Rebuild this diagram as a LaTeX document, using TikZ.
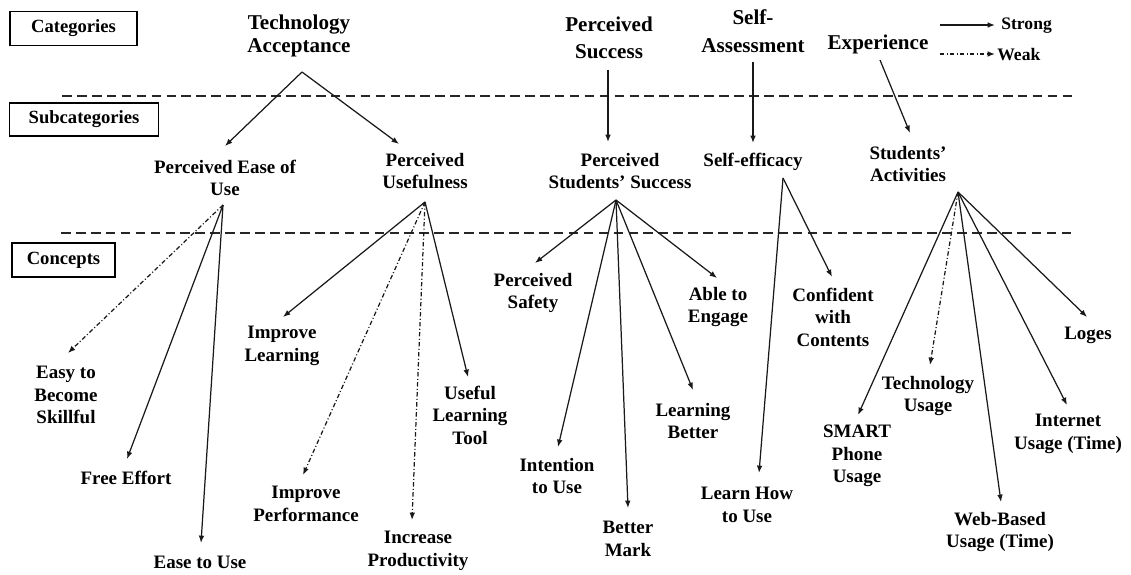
\documentclass[tikz,border=0pt]{standalone}
\usepackage{fontspec}
\setmainfont{Liberation Serif}
\usetikzlibrary{arrows.meta}
\begin{document}
\begin{tikzpicture}[x=0.02cm,y=-0.02cm,
  lab/.style={font=\bfseries\fontsize{10.8}{12.8}\selectfont,align=center,inner sep=0pt},
  cat/.style={font=\bfseries\fontsize{12}{13.2}\selectfont,align=center,inner sep=0pt},
  levelbox/.style={draw,line width=0.8pt,font=\bfseries\fontsize{10.6}{12}\selectfont,inner sep=0pt},
  sep/.style={line width=0.65pt,dash pattern=on 5.5pt off 3pt,draw=black!85},
  strong/.style={line width=0.7pt,draw=black!90,-{Latex[length=4.2pt,width=3.2pt]}},
  weak/.style={line width=0.7pt,draw=black!90,dash pattern=on 2.5pt off 1.3pt on 0.6pt off 1.3pt,-{Latex[length=4.2pt,width=3.2pt]}}]
\useasboundingbox (0,0) rectangle (1131,574);
\fill[white] (0,0) rectangle (1131,574);

% level boxes
\node[levelbox,minimum width=127*0.02cm,minimum height=34*0.02cm] (lvcat) at (73.5,28.5) {Categories};
\node[levelbox,minimum width=149*0.02cm,minimum height=33*0.02cm] (lvsub) at (84,119.5) {Subcategories};
\node[levelbox,minimum width=103*0.02cm,minimum height=34*0.02cm] (lvcon) at (63.5,260) {Concepts};

% level separators
\coordinate (s1a) at (62,96);  \coordinate (s1b) at (1075,96);
\coordinate (s2a) at (61,233); \coordinate (s2b) at (1075,233);
\draw[sep] (s1a) -- (s1b);
\draw[sep] (s2a) -- (s2b);

% legend
\coordinate (lg1a) at (940,25); \coordinate (lg1b) at (995,25);
\coordinate (lg2a) at (940,54); \coordinate (lg2b) at (995,54);
\draw[strong] (lg1a) -- (lg1b);
\draw[weak] (lg2a) -- (lg2b);
\node[font=\bfseries\fontsize{10}{12}\selectfont,anchor=west,inner sep=0pt] (lgs) at (1001,26) {Strong};
\node[font=\bfseries\fontsize{10}{12}\selectfont,anchor=west,inner sep=0pt] (lgw) at (997,55) {Weak};

% categories
\node[cat] (ta) at (299,36) {Technology\\Acceptance};
\node[cat,font=\bfseries\fontsize{12}{15.2}\selectfont] (ps) at (609,38) {Perceived\\Success};
\node[cat,font=\bfseries\fontsize{12}{15.6}\selectfont] (sa) at (753,31) {Self-\\Assessment};
\node[cat] (ex) at (878,44) {Experience};

% subcategories
\node[lab] (peou) at (225,178) {Perceived Ease of\\Use};
\node[lab] (pu) at (425,171) {Perceived\\Usefulness};
\node[lab] (pss) at (620,171) {Perceived\\Students’ Success};
\node[lab] (se) at (753,162) {Self-efficacy};
\node[lab] (sact) at (908,164) {Students’\\Activities};

% concepts
\node[lab] (easy) at (66,395) {Easy to\\Become\\Skillful};
\node[lab] (free) at (126,478) {Free Effort};
\node[lab] (ease) at (200,562) {Ease to Use};
\node[lab] (impl) at (282,346) {Improve\\Learning};
\node[lab] (impp) at (306,504) {Improve\\Performance};
\node[lab] (incp) at (418,551) {Increase\\Productivity};
\node[lab] (ult) at (470,415) {Useful\\Learning\\Tool};
\node[lab] (psaf) at (533,293) {Perceived\\Safety};
\node[lab] (intu) at (557,476) {Intention\\to Use};
\node[lab] (bmark) at (628,539) {Better\\Mark};
\node[lab] (lbet) at (693,421) {Learning\\Better};
\node[lab] (able) at (718,307) {Able to\\Engage};
\node[lab] (conf) at (833,317) {Confident\\with\\Contents};
\node[lab] (lhow) at (747,505) {Learn How\\to Use};
\node[lab] (smart) at (857,456) {SMART\\Phone\\Usage};
\node[lab] (tusage) at (928,396) {Technology\\Usage};
\node[lab] (web) at (1000,532) {Web-Based\\Usage (Time)};
\node[lab] (inet) at (1068,434) {Internet\\Usage (Time)};
\node[lab] (loges) at (1088,335) {Loges};

% connector ends
\coordinate (ta-o) at (302,72);
\coordinate (ps-o) at (608,70);
\coordinate (sa-o) at (753,62);
\coordinate (ex-o) at (880,60);
\coordinate (peou-i) at (225,146);
\coordinate (pu-i) at (399,144);
\coordinate (pss-i) at (608,142);
\coordinate (se-i) at (753,143);
\coordinate (sact-i) at (910,133);

\coordinate (peou-o) at (223,205);
\coordinate (pu-o) at (425,202);
\coordinate (pss-o) at (616,200);
\coordinate (se-o) at (783,178);
\coordinate (sact-o) at (958,192);

\coordinate (easy-i) at (68,353);
\coordinate (free-i) at (127,459);
\coordinate (ease-i) at (201,543);
\coordinate (impl-i) at (283,317);
\coordinate (impp-i) at (303,475);
\coordinate (incp-i) at (412,520);
\coordinate (ult-i) at (468,377);
\coordinate (psaf-i) at (535,263);
\coordinate (intu-i) at (558,447);
\coordinate (bmark-i) at (628,508);
\coordinate (lbet-i) at (693,390);
\coordinate (able-i) at (717,278);
\coordinate (conf-i) at (832,277);
\coordinate (lhow-i) at (759,473);
\coordinate (smart-i) at (858,415);
\coordinate (tusage-i) at (930,365);
\coordinate (web-i) at (1001,502);
\coordinate (inet-i) at (1067,405);
\coordinate (loges-i) at (1087,317);

% category -> subcategory
\draw[strong] (ta-o) -- (peou-i);
\draw[strong] (ta-o) -- (pu-i);
\draw[strong] (ps-o) -- (pss-i);
\draw[strong] (sa-o) -- (se-i);
\draw[strong] (ex-o) -- (sact-i);

% subcategory -> concept
\draw[weak]   (peou-o) -- (easy-i);
\draw[strong] (peou-o) -- (free-i);
\draw[strong] (peou-o) -- (ease-i);

\draw[strong] (pu-o) -- (impl-i);
\draw[weak]   (pu-o) -- (impp-i);
\draw[weak]   (pu-o) -- (incp-i);
\draw[strong] (pu-o) -- (ult-i);

\draw[strong] (pss-o) -- (psaf-i);
\draw[strong] (pss-o) -- (intu-i);
\draw[strong] (pss-o) -- (bmark-i);
\draw[strong] (pss-o) -- (lbet-i);
\draw[strong] (pss-o) -- (able-i);

\draw[strong] (se-o) -- (conf-i);
\draw[strong] (se-o) -- (lhow-i);

\draw[strong] (sact-o) -- (smart-i);
\draw[weak]   (sact-o) -- (tusage-i);
\draw[strong] (sact-o) -- (web-i);
\draw[strong] (sact-o) -- (inet-i);
\draw[strong] (sact-o) -- (loges-i);
\end{tikzpicture}
\end{document}
